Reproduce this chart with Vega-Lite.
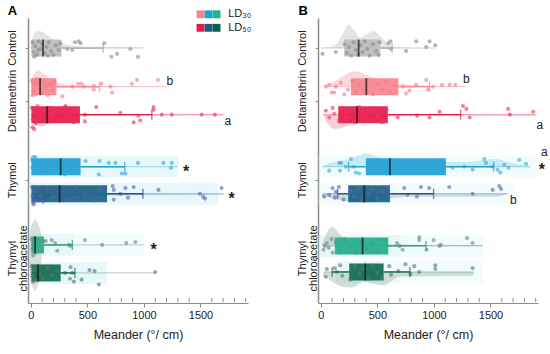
{
"$schema": "https://vega.github.io/schema/vega-lite/v6.json",
"padding": {"left": 7, "top": 5, "right": 4, "bottom": 3},
"data": {"values": [
{"kind":"box","panel":"A","grp":"C","row":26,"q1":5,"med":108,"q3":272},
{"kind":"box","panel":"A","grp":"D30","row":66,"q1":5,"med":82,"q3":226},
{"kind":"box","panel":"A","grp":"D50","row":95,"q1":5,"med":144,"q3":434},
{"kind":"box","panel":"A","grp":"T30","row":149,"q1":5,"med":264,"q3":440},
{"kind":"box","panel":"A","grp":"T50","row":177,"q1":5,"med":255,"q3":674},
{"kind":"box","panel":"A","grp":"TC30","row":230,"q1":5,"med":38,"q3":117},
{"kind":"box","panel":"A","grp":"TC50","row":259,"q1":5,"med":64,"q3":264},
{"kind":"box","panel":"B","grp":"C","row":26,"q1":207,"med":334,"q3":526},
{"kind":"box","panel":"B","grp":"D30","row":66,"q1":266,"med":402,"q3":686},
{"kind":"box","panel":"B","grp":"D50","row":95,"q1":154,"med":320,"q3":592},
{"kind":"box","panel":"B","grp":"T30","row":149,"q1":398,"med":611,"q3":1106},
{"kind":"box","panel":"B","grp":"T50","row":177,"q1":242,"med":384,"q3":611},
{"kind":"box","panel":"B","grp":"TC30","row":231,"q1":124,"med":369,"q3":596},
{"kind":"box","panel":"B","grp":"TC50","row":258,"q1":251,"med":392,"q3":555},

{"kind":"whisk","panel":"A","grp":"C","row":26,"a":272,"b":640},
{"kind":"whisk","panel":"A","grp":"D30","row":66,"a":226,"b":607},
{"kind":"whisk","panel":"A","grp":"D50","row":95,"a":434,"b":1070},
{"kind":"whisk","panel":"A","grp":"T30","row":149,"a":440,"b":830},
{"kind":"whisk","panel":"A","grp":"T50","row":177,"a":674,"b":991},
{"kind":"whisk","panel":"A","grp":"TC30","row":230,"a":117,"b":367},
{"kind":"whisk","panel":"A","grp":"TC50","row":259,"a":264,"b":390},
{"kind":"whisk","panel":"B","grp":"C","row":26,"a":526,"b":630},
{"kind":"whisk","panel":"B","grp":"D30","row":66,"a":686,"b":961},
{"kind":"whisk","panel":"B","grp":"D50","row":95,"a":592,"b":1236},
{"kind":"whisk","panel":"B","grp":"T30","row":149,"a":1106,"b":1528},
{"kind":"whisk","panel":"B","grp":"T30","row":149,"a":245,"b":398},
{"kind":"whisk","panel":"B","grp":"T50","row":177,"a":611,"b":997},
{"kind":"whisk","panel":"B","grp":"T50","row":177,"a":148,"b":242},
{"kind":"whisk","panel":"B","grp":"TC30","row":231,"a":596,"b":929},
{"kind":"whisk","panel":"B","grp":"TC50","row":258,"a":555,"b":788},
{"kind":"whisk","panel":"B","grp":"TC50","row":258,"a":100,"b":251},

{"kind":"cap","panel":"A","grp":"C","row":26,"v":640},
{"kind":"cap","panel":"A","grp":"D30","row":66,"v":607},
{"kind":"cap","panel":"A","grp":"D50","row":95,"v":1070},
{"kind":"cap","panel":"A","grp":"T30","row":149,"v":830},
{"kind":"cap","panel":"A","grp":"T50","row":177,"v":991},
{"kind":"cap","panel":"A","grp":"TC30","row":230,"v":367},
{"kind":"cap","panel":"A","grp":"TC50","row":259,"v":390},
{"kind":"cap","panel":"B","grp":"C","row":26,"v":630},
{"kind":"cap","panel":"B","grp":"D30","row":66,"v":961},
{"kind":"cap","panel":"B","grp":"D50","row":95,"v":1236},
{"kind":"cap","panel":"B","grp":"T30","row":149,"v":1528},
{"kind":"cap","panel":"B","grp":"T30","row":149,"v":245},
{"kind":"cap","panel":"B","grp":"T50","row":177,"v":997},
{"kind":"cap","panel":"B","grp":"T50","row":177,"v":148},
{"kind":"cap","panel":"B","grp":"TC30","row":231,"v":929},
{"kind":"cap","panel":"B","grp":"TC50","row":258,"v":788},
{"kind":"cap","panel":"B","grp":"TC50","row":258,"v":100},

{"kind":"tail","panel":"A","grp":"C","row":26,"a":0,"b":995},
{"kind":"tail","panel":"A","grp":"D30","row":66,"a":0,"b":1200},
{"kind":"tail","panel":"A","grp":"D50","row":95,"a":0,"b":1706},
{"kind":"tail","panel":"A","grp":"T30","row":149,"a":0,"b":1300},
{"kind":"tail","panel":"A","grp":"T50","row":177,"a":0,"b":1706},
{"kind":"tail","panel":"A","grp":"TC30","row":230,"a":0,"b":995},
{"kind":"tail","panel":"A","grp":"TC50","row":259,"a":0,"b":1100},
{"kind":"tail","panel":"B","grp":"C","row":26,"a":0,"b":1012},
{"kind":"tail","panel":"B","grp":"D30","row":66,"a":30,"b":1270},
{"kind":"tail","panel":"B","grp":"D50","row":95,"a":20,"b":1900},
{"kind":"tail","panel":"B","grp":"T30","row":149,"a":20,"b":1850},
{"kind":"tail","panel":"B","grp":"T50","row":177,"a":20,"b":1650},
{"kind":"tail","panel":"B","grp":"TC30","row":231,"a":20,"b":1434},
{"kind":"tail","panel":"B","grp":"TC50","row":258,"a":30,"b":1355},

{"kind":"band","panel":"A","grp":"T30","row":149,"a":-18,"b":1300},
{"kind":"band","panel":"A","grp":"T50","row":177,"a":-18,"b":1655},
{"kind":"band","panel":"A","grp":"TC30","row":230,"a":-18,"b":380},
{"kind":"bandf","panel":"A","grp":"TC30","row":230,"a":380,"b":995},
{"kind":"band","panel":"A","grp":"TC50","row":259,"a":-18,"b":674},
{"kind":"bandf","panel":"B","grp":"T30","row":149,"a":-20,"b":1900},
{"kind":"bandf","panel":"B","grp":"T50","row":177,"a":-20,"b":1710},
{"kind":"band","panel":"B","grp":"TC30","row":231,"a":-20,"b":708},
{"kind":"bandf","panel":"B","grp":"TC30","row":231,"a":708,"b":1434},
{"kind":"band","panel":"B","grp":"TC50","row":258,"a":133,"b":560},
{"kind":"bandf","panel":"B","grp":"TC50","row":258,"a":560,"b":1434},

{"kind":"dens","panel":"A","grp":"C","v":0,"top":24,"base":26},
{"kind":"dens","panel":"A","grp":"C","v":20,"top":14,"base":26},
{"kind":"dens","panel":"A","grp":"C","v":55,"top":8,"base":26},
{"kind":"dens","panel":"A","grp":"C","v":100,"top":9,"base":26},
{"kind":"dens","panel":"A","grp":"C","v":170,"top":15,"base":26},
{"kind":"dens","panel":"A","grp":"C","v":250,"top":20,"base":26},
{"kind":"dens","panel":"A","grp":"C","v":350,"top":23,"base":26},
{"kind":"dens","panel":"A","grp":"C","v":500,"top":24.5,"base":26},
{"kind":"dens","panel":"A","grp":"C","v":750,"top":25,"base":26},
{"kind":"dens","panel":"A","grp":"C","v":995,"top":25.5,"base":26},
{"kind":"dens","panel":"A","grp":"D30","v":0,"top":62,"base":66},
{"kind":"dens","panel":"A","grp":"D30","v":30,"top":52,"base":66},
{"kind":"dens","panel":"A","grp":"D30","v":70,"top":49,"base":66},
{"kind":"dens","panel":"A","grp":"D30","v":120,"top":53,"base":66},
{"kind":"dens","panel":"A","grp":"D30","v":200,"top":60,"base":66},
{"kind":"dens","panel":"A","grp":"D30","v":300,"top":63.5,"base":66},
{"kind":"dens","panel":"A","grp":"D30","v":500,"top":65,"base":66},
{"kind":"dens","panel":"A","grp":"D30","v":1200,"top":65.5,"base":66},
{"kind":"dens","panel":"A","grp":"D50","v":0,"top":100,"base":95},
{"kind":"dens","panel":"A","grp":"D50","v":40,"top":106,"base":95},
{"kind":"dens","panel":"A","grp":"D50","v":100,"top":107,"base":95},
{"kind":"dens","panel":"A","grp":"D50","v":180,"top":104,"base":95},
{"kind":"dens","panel":"A","grp":"D50","v":300,"top":99,"base":95},
{"kind":"dens","panel":"A","grp":"D50","v":500,"top":96.5,"base":95},
{"kind":"dens","panel":"A","grp":"D50","v":1700,"top":95.5,"base":95},
{"kind":"dens","panel":"A","grp":"T50","v":0,"top":183,"base":177},
{"kind":"dens","panel":"A","grp":"T50","v":30,"top":186,"base":177},
{"kind":"dens","panel":"A","grp":"T50","v":100,"top":184,"base":177},
{"kind":"dens","panel":"A","grp":"T50","v":200,"top":180,"base":177},
{"kind":"dens","panel":"A","grp":"T50","v":1700,"top":178,"base":177},
{"kind":"dens","panel":"B","grp":"C","v":0,"top":26,"base":26},
{"kind":"dens","panel":"B","grp":"C","v":80,"top":25,"base":26},
{"kind":"dens","panel":"B","grp":"C","v":150,"top":20,"base":26},
{"kind":"dens","panel":"B","grp":"C","v":200,"top":10,"base":26},
{"kind":"dens","panel":"B","grp":"C","v":245,"top":2,"base":26},
{"kind":"dens","panel":"B","grp":"C","v":290,"top":7,"base":26},
{"kind":"dens","panel":"B","grp":"C","v":350,"top":15,"base":26},
{"kind":"dens","panel":"B","grp":"C","v":400,"top":12,"base":26},
{"kind":"dens","panel":"B","grp":"C","v":465,"top":8,"base":26},
{"kind":"dens","panel":"B","grp":"C","v":520,"top":13,"base":26},
{"kind":"dens","panel":"B","grp":"C","v":570,"top":19,"base":26},
{"kind":"dens","panel":"B","grp":"C","v":630,"top":24,"base":26},
{"kind":"dens","panel":"B","grp":"C","v":800,"top":25.3,"base":26},
{"kind":"dens","panel":"B","grp":"C","v":1012,"top":25.6,"base":26},
{"kind":"dens","panel":"B","grp":"D30","v":30,"top":66,"base":66},
{"kind":"dens","panel":"B","grp":"D30","v":100,"top":62,"base":66},
{"kind":"dens","panel":"B","grp":"D30","v":200,"top":55,"base":66},
{"kind":"dens","panel":"B","grp":"D30","v":290,"top":50,"base":66},
{"kind":"dens","panel":"B","grp":"D30","v":350,"top":51,"base":66},
{"kind":"dens","panel":"B","grp":"D30","v":450,"top":56,"base":66},
{"kind":"dens","panel":"B","grp":"D30","v":550,"top":60,"base":66},
{"kind":"dens","panel":"B","grp":"D30","v":680,"top":63,"base":66},
{"kind":"dens","panel":"B","grp":"D30","v":900,"top":64.5,"base":66},
{"kind":"dens","panel":"B","grp":"D30","v":1270,"top":65.5,"base":66},
{"kind":"dens","panel":"B","grp":"D50","v":20,"top":95,"base":95},
{"kind":"dens","panel":"B","grp":"D50","v":60,"top":104,"base":95},
{"kind":"dens","panel":"B","grp":"D50","v":120,"top":110,"base":95},
{"kind":"dens","panel":"B","grp":"D50","v":200,"top":108,"base":95},
{"kind":"dens","panel":"B","grp":"D50","v":300,"top":104,"base":95},
{"kind":"dens","panel":"B","grp":"D50","v":450,"top":100,"base":95},
{"kind":"dens","panel":"B","grp":"D50","v":620,"top":97,"base":95},
{"kind":"dens","panel":"B","grp":"D50","v":900,"top":96,"base":95},
{"kind":"dens","panel":"B","grp":"D50","v":1900,"top":96,"base":95},
{"kind":"dens","panel":"B","grp":"T30","v":0,"top":149,"base":149},
{"kind":"dens","panel":"B","grp":"T30","v":80,"top":145,"base":149},
{"kind":"dens","panel":"B","grp":"T30","v":170,"top":143,"base":149},
{"kind":"dens","panel":"B","grp":"T30","v":300,"top":139,"base":149},
{"kind":"dens","panel":"B","grp":"T30","v":400,"top":135,"base":149},
{"kind":"dens","panel":"B","grp":"T30","v":500,"top":139,"base":149},
{"kind":"dens","panel":"B","grp":"T30","v":700,"top":143,"base":149},
{"kind":"dens","panel":"B","grp":"T30","v":1000,"top":144,"base":149},
{"kind":"dens","panel":"B","grp":"T30","v":1300,"top":144,"base":149},
{"kind":"dens","panel":"B","grp":"T30","v":1450,"top":142,"base":149},
{"kind":"dens","panel":"B","grp":"T30","v":1550,"top":141,"base":149},
{"kind":"dens","panel":"B","grp":"T30","v":1650,"top":144,"base":149},
{"kind":"dens","panel":"B","grp":"T30","v":1850,"top":149,"base":149},
{"kind":"dens","panel":"B","grp":"T50","v":10,"top":179,"base":177},
{"kind":"dens","panel":"B","grp":"T50","v":100,"top":182,"base":177},
{"kind":"dens","panel":"B","grp":"T50","v":250,"top":185,"base":177},
{"kind":"dens","panel":"B","grp":"T50","v":400,"top":186,"base":177},
{"kind":"dens","panel":"B","grp":"T50","v":550,"top":183,"base":177},
{"kind":"dens","panel":"B","grp":"T50","v":800,"top":180,"base":177},
{"kind":"dens","panel":"B","grp":"T50","v":1550,"top":180,"base":177},
{"kind":"dens","panel":"B","grp":"T50","v":1650,"top":177,"base":177},
{"kind":"dens","panel":"B","grp":"TC30","v":10,"top":229,"base":231},
{"kind":"dens","panel":"B","grp":"TC30","v":60,"top":216,"base":231},
{"kind":"dens","panel":"B","grp":"TC30","v":104,"top":211,"base":231},
{"kind":"dens","panel":"B","grp":"TC30","v":160,"top":218,"base":231},
{"kind":"dens","panel":"B","grp":"TC30","v":250,"top":226,"base":231},
{"kind":"dens","panel":"B","grp":"TC30","v":400,"top":229,"base":231},
{"kind":"dens","panel":"B","grp":"TC30","v":1430,"top":230,"base":231},
{"kind":"dens","panel":"B","grp":"TC50","v":20,"top":262,"base":258},
{"kind":"dens","panel":"B","grp":"TC50","v":100,"top":268,"base":258},
{"kind":"dens","panel":"B","grp":"TC50","v":180,"top":273,"base":258},
{"kind":"dens","panel":"B","grp":"TC50","v":280,"top":274,"base":258},
{"kind":"dens","panel":"B","grp":"TC50","v":380,"top":268,"base":258},
{"kind":"dens","panel":"B","grp":"TC50","v":450,"top":270,"base":258},
{"kind":"dens","panel":"B","grp":"TC50","v":560,"top":272,"base":258},
{"kind":"dens","panel":"B","grp":"TC50","v":620,"top":268,"base":258},
{"kind":"dens","panel":"B","grp":"TC50","v":700,"top":263,"base":258},
{"kind":"dens","panel":"B","grp":"TC50","v":1350,"top":262,"base":258},

{"kind":"violin","panel":"A","yy":203,"xl":38,"xr":38},
{"kind":"violin","panel":"A","yy":208,"xl":12,"xr":64},
{"kind":"violin","panel":"A","yy":215,"xl":-5,"xr":85},
{"kind":"violin","panel":"A","yy":225,"xl":-15,"xr":95},
{"kind":"violin","panel":"A","yy":238,"xl":-17,"xr":97},
{"kind":"violin","panel":"A","yy":250,"xl":-12,"xr":90},
{"kind":"violin","panel":"A","yy":262,"xl":-5,"xr":80},
{"kind":"violin","panel":"A","yy":272,"xl":10,"xr":62},
{"kind":"violin","panel":"A","yy":278,"xl":38,"xr":38},

{"kind":"pt","panel":"A","grp":"C","v":15,"y":20},{"kind":"pt","panel":"A","grp":"C","v":25,"y":30},{"kind":"pt","panel":"A","grp":"C","v":40,"y":24},{"kind":"pt","panel":"A","grp":"C","v":55,"y":33},{"kind":"pt","panel":"A","grp":"C","v":70,"y":19},{"kind":"pt","panel":"A","grp":"C","v":85,"y":27},{"kind":"pt","panel":"A","grp":"C","v":100,"y":22},{"kind":"pt","panel":"A","grp":"C","v":120,"y":31},{"kind":"pt","panel":"A","grp":"C","v":140,"y":25},{"kind":"pt","panel":"A","grp":"C","v":160,"y":20},{"kind":"pt","panel":"A","grp":"C","v":180,"y":29},{"kind":"pt","panel":"A","grp":"C","v":200,"y":33},{"kind":"pt","panel":"A","grp":"C","v":220,"y":23},{"kind":"pt","panel":"A","grp":"C","v":245,"y":28},{"kind":"pt","panel":"A","grp":"C","v":260,"y":21},{"kind":"pt","panel":"A","grp":"C","v":30,"y":35},{"kind":"pt","panel":"A","grp":"C","v":65,"y":28},{"kind":"pt","panel":"A","grp":"C","v":150,"y":34},
{"kind":"pt","panel":"A","grp":"C","v":322,"y":27},{"kind":"pt","panel":"A","grp":"C","v":367,"y":28},{"kind":"pt","panel":"A","grp":"C","v":390,"y":20},{"kind":"pt","panel":"A","grp":"C","v":424,"y":19},{"kind":"pt","panel":"A","grp":"C","v":440,"y":21},{"kind":"pt","panel":"A","grp":"C","v":650,"y":21},{"kind":"pt","panel":"A","grp":"C","v":712,"y":35},{"kind":"pt","panel":"A","grp":"C","v":762,"y":32},{"kind":"pt","panel":"A","grp":"C","v":880,"y":27},{"kind":"pt","panel":"A","grp":"C","v":947,"y":35},
{"kind":"pt","panel":"A","grp":"D30","v":10,"y":60},{"kind":"pt","panel":"A","grp":"D30","v":20,"y":70},{"kind":"pt","panel":"A","grp":"D30","v":35,"y":64},{"kind":"pt","panel":"A","grp":"D30","v":45,"y":74},{"kind":"pt","panel":"A","grp":"D30","v":60,"y":62},{"kind":"pt","panel":"A","grp":"D30","v":75,"y":68},{"kind":"pt","panel":"A","grp":"D30","v":95,"y":72},{"kind":"pt","panel":"A","grp":"D30","v":110,"y":60},{"kind":"pt","panel":"A","grp":"D30","v":130,"y":66},{"kind":"pt","panel":"A","grp":"D30","v":150,"y":75},{"kind":"pt","panel":"A","grp":"D30","v":170,"y":63},{"kind":"pt","panel":"A","grp":"D30","v":190,"y":70},{"kind":"pt","panel":"A","grp":"D30","v":210,"y":61},{"kind":"pt","panel":"A","grp":"D30","v":15,"y":75},{"kind":"pt","panel":"A","grp":"D30","v":55,"y":58},
{"kind":"pt","panel":"A","grp":"D30","v":279,"y":76},{"kind":"pt","panel":"A","grp":"D30","v":367,"y":66},{"kind":"pt","panel":"A","grp":"D30","v":419,"y":63},{"kind":"pt","panel":"A","grp":"D30","v":449,"y":63},{"kind":"pt","panel":"A","grp":"D30","v":469,"y":66},{"kind":"pt","panel":"A","grp":"D30","v":557,"y":65},{"kind":"pt","panel":"A","grp":"D30","v":557,"y":69},{"kind":"pt","panel":"A","grp":"D30","v":624,"y":63},{"kind":"pt","panel":"A","grp":"D30","v":704,"y":66},{"kind":"pt","panel":"A","grp":"D30","v":718,"y":72},{"kind":"pt","panel":"A","grp":"D30","v":894,"y":63},{"kind":"pt","panel":"A","grp":"D30","v":938,"y":59},{"kind":"pt","panel":"A","grp":"D30","v":1123,"y":59},
{"kind":"pt","panel":"A","grp":"D50","v":10,"y":88},{"kind":"pt","panel":"A","grp":"D50","v":20,"y":100},{"kind":"pt","panel":"A","grp":"D50","v":30,"y":92},{"kind":"pt","panel":"A","grp":"D50","v":45,"y":104},{"kind":"pt","panel":"A","grp":"D50","v":60,"y":86},{"kind":"pt","panel":"A","grp":"D50","v":80,"y":97},{"kind":"pt","panel":"A","grp":"D50","v":100,"y":90},{"kind":"pt","panel":"A","grp":"D50","v":130,"y":102},{"kind":"pt","panel":"A","grp":"D50","v":160,"y":88},{"kind":"pt","panel":"A","grp":"D50","v":190,"y":96},{"kind":"pt","panel":"A","grp":"D50","v":220,"y":91},{"kind":"pt","panel":"A","grp":"D50","v":260,"y":100},{"kind":"pt","panel":"A","grp":"D50","v":300,"y":87},{"kind":"pt","panel":"A","grp":"D50","v":340,"y":95},{"kind":"pt","panel":"A","grp":"D50","v":380,"y":103},{"kind":"pt","panel":"A","grp":"D50","v":410,"y":89},{"kind":"pt","panel":"A","grp":"D50","v":15,"y":108},{"kind":"pt","panel":"A","grp":"D50","v":30,"y":110},
{"kind":"pt","panel":"A","grp":"D50","v":308,"y":86},{"kind":"pt","panel":"A","grp":"D50","v":478,"y":95},{"kind":"pt","panel":"A","grp":"D50","v":478,"y":102},{"kind":"pt","panel":"A","grp":"D50","v":578,"y":87},{"kind":"pt","panel":"A","grp":"D50","v":792,"y":93},{"kind":"pt","panel":"A","grp":"D50","v":909,"y":103},{"kind":"pt","panel":"A","grp":"D50","v":967,"y":101},{"kind":"pt","panel":"A","grp":"D50","v":950,"y":96},{"kind":"pt","panel":"A","grp":"D50","v":1085,"y":87},{"kind":"pt","panel":"A","grp":"D50","v":1085,"y":90},{"kind":"pt","panel":"A","grp":"D50","v":1158,"y":95},{"kind":"pt","panel":"A","grp":"D50","v":1246,"y":95},{"kind":"pt","panel":"A","grp":"D50","v":1510,"y":95},{"kind":"pt","panel":"A","grp":"D50","v":1627,"y":95},
{"kind":"pt","panel":"A","grp":"T30","v":10,"y":142},{"kind":"pt","panel":"A","grp":"T30","v":15,"y":150},{"kind":"pt","panel":"A","grp":"T30","v":25,"y":146},{"kind":"pt","panel":"A","grp":"T30","v":35,"y":155},{"kind":"pt","panel":"A","grp":"T30","v":50,"y":143},{"kind":"pt","panel":"A","grp":"T30","v":70,"y":151},{"kind":"pt","panel":"A","grp":"T30","v":90,"y":147},{"kind":"pt","panel":"A","grp":"T30","v":120,"y":156},{"kind":"pt","panel":"A","grp":"T30","v":150,"y":142},{"kind":"pt","panel":"A","grp":"T30","v":180,"y":149},{"kind":"pt","panel":"A","grp":"T30","v":220,"y":153},{"kind":"pt","panel":"A","grp":"T30","v":260,"y":145},{"kind":"pt","panel":"A","grp":"T30","v":300,"y":157},{"kind":"pt","panel":"A","grp":"T30","v":340,"y":148},{"kind":"pt","panel":"A","grp":"T30","v":400,"y":143},{"kind":"pt","panel":"A","grp":"T30","v":20,"y":139},{"kind":"pt","panel":"A","grp":"T30","v":40,"y":139},
{"kind":"pt","panel":"A","grp":"T30","v":484,"y":143},{"kind":"pt","panel":"A","grp":"T30","v":601,"y":157},{"kind":"pt","panel":"A","grp":"T30","v":607,"y":143},{"kind":"pt","panel":"A","grp":"T30","v":689,"y":145},{"kind":"pt","panel":"A","grp":"T30","v":748,"y":145},{"kind":"pt","panel":"A","grp":"T30","v":806,"y":156},{"kind":"pt","panel":"A","grp":"T30","v":836,"y":156},{"kind":"pt","panel":"A","grp":"T30","v":947,"y":145},{"kind":"pt","panel":"A","grp":"T30","v":1172,"y":145},{"kind":"pt","panel":"A","grp":"T30","v":1246,"y":145},{"kind":"pt","panel":"A","grp":"T30","v":1240,"y":150},
{"kind":"pt","panel":"A","grp":"T50","v":10,"y":170},{"kind":"pt","panel":"A","grp":"T50","v":15,"y":180},{"kind":"pt","panel":"A","grp":"T50","v":20,"y":186},{"kind":"pt","panel":"A","grp":"T50","v":30,"y":175},{"kind":"pt","panel":"A","grp":"T50","v":45,"y":184},{"kind":"pt","panel":"A","grp":"T50","v":60,"y":171},{"kind":"pt","panel":"A","grp":"T50","v":80,"y":179},{"kind":"pt","panel":"A","grp":"T50","v":110,"y":185},{"kind":"pt","panel":"A","grp":"T50","v":150,"y":172},{"kind":"pt","panel":"A","grp":"T50","v":200,"y":180},{"kind":"pt","panel":"A","grp":"T50","v":260,"y":175},{"kind":"pt","panel":"A","grp":"T50","v":320,"y":183},{"kind":"pt","panel":"A","grp":"T50","v":400,"y":170},{"kind":"pt","panel":"A","grp":"T50","v":480,"y":178},{"kind":"pt","panel":"A","grp":"T50","v":560,"y":184},{"kind":"pt","panel":"A","grp":"T50","v":620,"y":172},{"kind":"pt","panel":"A","grp":"T50","v":25,"y":188},
{"kind":"pt","panel":"A","grp":"T50","v":724,"y":169},{"kind":"pt","panel":"A","grp":"T50","v":733,"y":173},{"kind":"pt","panel":"A","grp":"T50","v":733,"y":183},{"kind":"pt","panel":"A","grp":"T50","v":792,"y":177},{"kind":"pt","panel":"A","grp":"T50","v":836,"y":171},{"kind":"pt","panel":"A","grp":"T50","v":859,"y":181},{"kind":"pt","panel":"A","grp":"T50","v":909,"y":170},{"kind":"pt","panel":"A","grp":"T50","v":1128,"y":173},{"kind":"pt","panel":"A","grp":"T50","v":1495,"y":177},{"kind":"pt","panel":"A","grp":"T50","v":1524,"y":180},{"kind":"pt","panel":"A","grp":"T50","v":1540,"y":182},{"kind":"pt","panel":"A","grp":"T50","v":1686,"y":171},
{"kind":"pt","panel":"A","grp":"TC30","v":8,"y":224},{"kind":"pt","panel":"A","grp":"TC30","v":15,"y":234},{"kind":"pt","panel":"A","grp":"TC30","v":25,"y":228},{"kind":"pt","panel":"A","grp":"TC30","v":40,"y":238},{"kind":"pt","panel":"A","grp":"TC30","v":55,"y":225},{"kind":"pt","panel":"A","grp":"TC30","v":70,"y":231},{"kind":"pt","panel":"A","grp":"TC30","v":90,"y":236},{"kind":"pt","panel":"A","grp":"TC30","v":110,"y":226},{"kind":"pt","panel":"A","grp":"TC30","v":20,"y":241},
{"kind":"pt","panel":"A","grp":"TC30","v":132,"y":226},{"kind":"pt","panel":"A","grp":"TC30","v":185,"y":225},{"kind":"pt","panel":"A","grp":"TC30","v":214,"y":228},{"kind":"pt","panel":"A","grp":"TC30","v":234,"y":236},{"kind":"pt","panel":"A","grp":"TC30","v":337,"y":230},{"kind":"pt","panel":"A","grp":"TC30","v":352,"y":231},{"kind":"pt","panel":"A","grp":"TC30","v":478,"y":225},{"kind":"pt","panel":"A","grp":"TC30","v":630,"y":230},{"kind":"pt","panel":"A","grp":"TC30","v":844,"y":228},{"kind":"pt","panel":"A","grp":"TC30","v":924,"y":227},
{"kind":"pt","panel":"A","grp":"TC50","v":8,"y":252},{"kind":"pt","panel":"A","grp":"TC50","v":15,"y":262},{"kind":"pt","panel":"A","grp":"TC50","v":25,"y":256},{"kind":"pt","panel":"A","grp":"TC50","v":40,"y":266},{"kind":"pt","panel":"A","grp":"TC50","v":60,"y":253},{"kind":"pt","panel":"A","grp":"TC50","v":80,"y":260},{"kind":"pt","panel":"A","grp":"TC50","v":110,"y":264},{"kind":"pt","panel":"A","grp":"TC50","v":150,"y":254},{"kind":"pt","panel":"A","grp":"TC50","v":190,"y":261},{"kind":"pt","panel":"A","grp":"TC50","v":230,"y":257},{"kind":"pt","panel":"A","grp":"TC50","v":20,"y":268},
{"kind":"pt","panel":"A","grp":"TC50","v":302,"y":259},{"kind":"pt","panel":"A","grp":"TC50","v":352,"y":253},{"kind":"pt","panel":"A","grp":"TC50","v":367,"y":259},{"kind":"pt","panel":"A","grp":"TC50","v":346,"y":265},{"kind":"pt","panel":"A","grp":"TC50","v":381,"y":268},{"kind":"pt","panel":"A","grp":"TC50","v":449,"y":266},{"kind":"pt","panel":"A","grp":"TC50","v":519,"y":256},{"kind":"pt","panel":"A","grp":"TC50","v":563,"y":257},{"kind":"pt","panel":"A","grp":"TC50","v":601,"y":271},{"kind":"pt","panel":"A","grp":"TC50","v":1100,"y":258},

{"kind":"pt","panel":"B","grp":"C","v":15,"y":32},{"kind":"pt","panel":"B","grp":"C","v":133,"y":30},{"kind":"pt","panel":"B","grp":"C","v":210,"y":22},{"kind":"pt","panel":"B","grp":"C","v":230,"y":31},{"kind":"pt","panel":"B","grp":"C","v":250,"y":25},{"kind":"pt","panel":"B","grp":"C","v":270,"y":34},{"kind":"pt","panel":"B","grp":"C","v":290,"y":20},{"kind":"pt","panel":"B","grp":"C","v":310,"y":28},{"kind":"pt","panel":"B","grp":"C","v":330,"y":33},{"kind":"pt","panel":"B","grp":"C","v":350,"y":23},{"kind":"pt","panel":"B","grp":"C","v":370,"y":30},{"kind":"pt","panel":"B","grp":"C","v":390,"y":19},{"kind":"pt","panel":"B","grp":"C","v":410,"y":27},{"kind":"pt","panel":"B","grp":"C","v":430,"y":34},{"kind":"pt","panel":"B","grp":"C","v":460,"y":22},{"kind":"pt","panel":"B","grp":"C","v":490,"y":29},{"kind":"pt","panel":"B","grp":"C","v":510,"y":33},{"kind":"pt","panel":"B","grp":"C","v":520,"y":20},{"kind":"pt","panel":"B","grp":"C","v":597,"y":21},{"kind":"pt","panel":"B","grp":"C","v":615,"y":19},{"kind":"pt","panel":"B","grp":"C","v":620,"y":27},{"kind":"pt","panel":"B","grp":"C","v":754,"y":29},{"kind":"pt","panel":"B","grp":"C","v":843,"y":19},{"kind":"pt","panel":"B","grp":"C","v":932,"y":25},{"kind":"pt","panel":"B","grp":"C","v":961,"y":19},{"kind":"pt","panel":"B","grp":"C","v":1012,"y":23},
{"kind":"pt","panel":"B","grp":"D30","v":44,"y":66},{"kind":"pt","panel":"B","grp":"D30","v":74,"y":64},{"kind":"pt","panel":"B","grp":"D30","v":95,"y":72},{"kind":"pt","panel":"B","grp":"D30","v":118,"y":72},{"kind":"pt","panel":"B","grp":"D30","v":133,"y":66},{"kind":"pt","panel":"B","grp":"D30","v":177,"y":62},{"kind":"pt","panel":"B","grp":"D30","v":207,"y":74},{"kind":"pt","panel":"B","grp":"D30","v":240,"y":69},{"kind":"pt","panel":"B","grp":"D30","v":280,"y":60},{"kind":"pt","panel":"B","grp":"D30","v":310,"y":72},{"kind":"pt","panel":"B","grp":"D30","v":340,"y":64},{"kind":"pt","panel":"B","grp":"D30","v":380,"y":70},{"kind":"pt","panel":"B","grp":"D30","v":420,"y":59},{"kind":"pt","panel":"B","grp":"D30","v":460,"y":74},{"kind":"pt","panel":"B","grp":"D30","v":500,"y":63},{"kind":"pt","panel":"B","grp":"D30","v":540,"y":69},{"kind":"pt","panel":"B","grp":"D30","v":580,"y":61},{"kind":"pt","panel":"B","grp":"D30","v":620,"y":72},{"kind":"pt","panel":"B","grp":"D30","v":660,"y":65},{"kind":"pt","panel":"B","grp":"D30","v":725,"y":66},{"kind":"pt","panel":"B","grp":"D30","v":754,"y":73},{"kind":"pt","panel":"B","grp":"D30","v":783,"y":70},{"kind":"pt","panel":"B","grp":"D30","v":843,"y":64},{"kind":"pt","panel":"B","grp":"D30","v":932,"y":59},{"kind":"pt","panel":"B","grp":"D30","v":947,"y":69},{"kind":"pt","panel":"B","grp":"D30","v":991,"y":66},{"kind":"pt","panel":"B","grp":"D30","v":1071,"y":64},{"kind":"pt","panel":"B","grp":"D30","v":1139,"y":64},{"kind":"pt","panel":"B","grp":"D30","v":1189,"y":64},
{"kind":"pt","panel":"B","grp":"D50","v":44,"y":91},{"kind":"pt","panel":"B","grp":"D50","v":74,"y":98},{"kind":"pt","panel":"B","grp":"D50","v":104,"y":88},{"kind":"pt","panel":"B","grp":"D50","v":118,"y":94},{"kind":"pt","panel":"B","grp":"D50","v":160,"y":101},{"kind":"pt","panel":"B","grp":"D50","v":190,"y":88},{"kind":"pt","panel":"B","grp":"D50","v":220,"y":97},{"kind":"pt","panel":"B","grp":"D50","v":260,"y":91},{"kind":"pt","panel":"B","grp":"D50","v":300,"y":103},{"kind":"pt","panel":"B","grp":"D50","v":340,"y":87},{"kind":"pt","panel":"B","grp":"D50","v":380,"y":95},{"kind":"pt","panel":"B","grp":"D50","v":420,"y":100},{"kind":"pt","panel":"B","grp":"D50","v":460,"y":89},{"kind":"pt","panel":"B","grp":"D50","v":500,"y":96},{"kind":"pt","panel":"B","grp":"D50","v":540,"y":103},{"kind":"pt","panel":"B","grp":"D50","v":580,"y":90},{"kind":"pt","panel":"B","grp":"D50","v":680,"y":98},{"kind":"pt","panel":"B","grp":"D50","v":852,"y":96},{"kind":"pt","panel":"B","grp":"D50","v":961,"y":98},{"kind":"pt","panel":"B","grp":"D50","v":1050,"y":92},{"kind":"pt","panel":"B","grp":"D50","v":1257,"y":86},{"kind":"pt","panel":"B","grp":"D50","v":1287,"y":89},{"kind":"pt","panel":"B","grp":"D50","v":1316,"y":98},{"kind":"pt","panel":"B","grp":"D50","v":1656,"y":89},{"kind":"pt","panel":"B","grp":"D50","v":1671,"y":95},{"kind":"pt","panel":"B","grp":"D50","v":1878,"y":92},
{"kind":"pt","panel":"B","grp":"T30","v":74,"y":153},{"kind":"pt","panel":"B","grp":"T30","v":162,"y":145},{"kind":"pt","panel":"B","grp":"T30","v":180,"y":145},{"kind":"pt","panel":"B","grp":"T30","v":170,"y":153},{"kind":"pt","panel":"B","grp":"T30","v":221,"y":149},{"kind":"pt","panel":"B","grp":"T30","v":265,"y":141},{"kind":"pt","panel":"B","grp":"T30","v":290,"y":149},{"kind":"pt","panel":"B","grp":"T30","v":310,"y":155},{"kind":"pt","panel":"B","grp":"T30","v":340,"y":156},{"kind":"pt","panel":"B","grp":"T30","v":420,"y":143},{"kind":"pt","panel":"B","grp":"T30","v":470,"y":152},{"kind":"pt","panel":"B","grp":"T30","v":520,"y":146},{"kind":"pt","panel":"B","grp":"T30","v":580,"y":156},{"kind":"pt","panel":"B","grp":"T30","v":640,"y":142},{"kind":"pt","panel":"B","grp":"T30","v":700,"y":150},{"kind":"pt","panel":"B","grp":"T30","v":760,"y":145},{"kind":"pt","panel":"B","grp":"T30","v":820,"y":154},{"kind":"pt","panel":"B","grp":"T30","v":880,"y":143},{"kind":"pt","panel":"B","grp":"T30","v":940,"y":151},{"kind":"pt","panel":"B","grp":"T30","v":1000,"y":147},{"kind":"pt","panel":"B","grp":"T30","v":1060,"y":155},{"kind":"pt","panel":"B","grp":"T30","v":1165,"y":150},{"kind":"pt","panel":"B","grp":"T30","v":1268,"y":149},{"kind":"pt","panel":"B","grp":"T30","v":1342,"y":152},{"kind":"pt","panel":"B","grp":"T30","v":1445,"y":141},{"kind":"pt","panel":"B","grp":"T30","v":1460,"y":145},{"kind":"pt","panel":"B","grp":"T30","v":1520,"y":149},{"kind":"pt","panel":"B","grp":"T30","v":1563,"y":152},{"kind":"pt","panel":"B","grp":"T30","v":1587,"y":155},{"kind":"pt","panel":"B","grp":"T30","v":1622,"y":147},{"kind":"pt","panel":"B","grp":"T30","v":1658,"y":150},{"kind":"pt","panel":"B","grp":"T30","v":1755,"y":142},{"kind":"pt","panel":"B","grp":"T30","v":1814,"y":146},
{"kind":"pt","panel":"B","grp":"T50","v":29,"y":180},{"kind":"pt","panel":"B","grp":"T50","v":74,"y":178},{"kind":"pt","panel":"B","grp":"T50","v":104,"y":171},{"kind":"pt","panel":"B","grp":"T50","v":124,"y":181},{"kind":"pt","panel":"B","grp":"T50","v":133,"y":175},{"kind":"pt","panel":"B","grp":"T50","v":160,"y":170},{"kind":"pt","panel":"B","grp":"T50","v":200,"y":183},{"kind":"pt","panel":"B","grp":"T50","v":260,"y":174},{"kind":"pt","panel":"B","grp":"T50","v":290,"y":180},{"kind":"pt","panel":"B","grp":"T50","v":330,"y":171},{"kind":"pt","panel":"B","grp":"T50","v":370,"y":184},{"kind":"pt","panel":"B","grp":"T50","v":420,"y":177},{"kind":"pt","panel":"B","grp":"T50","v":460,"y":172},{"kind":"pt","panel":"B","grp":"T50","v":500,"y":182},{"kind":"pt","panel":"B","grp":"T50","v":550,"y":175},{"kind":"pt","panel":"B","grp":"T50","v":590,"y":170},{"kind":"pt","panel":"B","grp":"T50","v":737,"y":171},{"kind":"pt","panel":"B","grp":"T50","v":767,"y":178},{"kind":"pt","panel":"B","grp":"T50","v":850,"y":180},{"kind":"pt","panel":"B","grp":"T50","v":885,"y":170},{"kind":"pt","panel":"B","grp":"T50","v":958,"y":171},{"kind":"pt","panel":"B","grp":"T50","v":1136,"y":170},{"kind":"pt","panel":"B","grp":"T50","v":1342,"y":177},{"kind":"pt","panel":"B","grp":"T50","v":1519,"y":173},{"kind":"pt","panel":"B","grp":"T50","v":1578,"y":169},{"kind":"pt","panel":"B","grp":"T50","v":1593,"y":172},
{"kind":"pt","panel":"B","grp":"TC30","v":24,"y":235},{"kind":"pt","panel":"B","grp":"TC30","v":35,"y":231},{"kind":"pt","panel":"B","grp":"TC30","v":53,"y":228},{"kind":"pt","panel":"B","grp":"TC30","v":70,"y":233},{"kind":"pt","panel":"B","grp":"TC30","v":95,"y":224},{"kind":"pt","panel":"B","grp":"TC30","v":104,"y":238},{"kind":"pt","panel":"B","grp":"TC30","v":130,"y":227},{"kind":"pt","panel":"B","grp":"TC30","v":170,"y":236},{"kind":"pt","panel":"B","grp":"TC30","v":210,"y":224},{"kind":"pt","panel":"B","grp":"TC30","v":260,"y":232},{"kind":"pt","panel":"B","grp":"TC30","v":310,"y":238},{"kind":"pt","panel":"B","grp":"TC30","v":360,"y":226},{"kind":"pt","panel":"B","grp":"TC30","v":410,"y":234},{"kind":"pt","panel":"B","grp":"TC30","v":460,"y":229},{"kind":"pt","panel":"B","grp":"TC30","v":510,"y":237},{"kind":"pt","panel":"B","grp":"TC30","v":560,"y":225},{"kind":"pt","panel":"B","grp":"TC30","v":673,"y":228},{"kind":"pt","panel":"B","grp":"TC30","v":694,"y":231},{"kind":"pt","panel":"B","grp":"TC30","v":723,"y":235},{"kind":"pt","panel":"B","grp":"TC30","v":870,"y":222},{"kind":"pt","panel":"B","grp":"TC30","v":870,"y":225},{"kind":"pt","panel":"B","grp":"TC30","v":935,"y":235},{"kind":"pt","panel":"B","grp":"TC30","v":997,"y":225},{"kind":"pt","panel":"B","grp":"TC30","v":1047,"y":231},{"kind":"pt","panel":"B","grp":"TC30","v":1062,"y":230},{"kind":"pt","panel":"B","grp":"TC30","v":1292,"y":223},{"kind":"pt","panel":"B","grp":"TC30","v":1342,"y":228},
{"kind":"pt","panel":"B","grp":"TC50","v":44,"y":263},{"kind":"pt","panel":"B","grp":"TC50","v":53,"y":255},{"kind":"pt","panel":"B","grp":"TC50","v":124,"y":254},{"kind":"pt","panel":"B","grp":"TC50","v":140,"y":258},{"kind":"pt","panel":"B","grp":"TC50","v":171,"y":251},{"kind":"pt","panel":"B","grp":"TC50","v":190,"y":262},{"kind":"pt","panel":"B","grp":"TC50","v":260,"y":266},{"kind":"pt","panel":"B","grp":"TC50","v":300,"y":252},{"kind":"pt","panel":"B","grp":"TC50","v":340,"y":260},{"kind":"pt","panel":"B","grp":"TC50","v":380,"y":255},{"kind":"pt","panel":"B","grp":"TC50","v":420,"y":265},{"kind":"pt","panel":"B","grp":"TC50","v":460,"y":251},{"kind":"pt","panel":"B","grp":"TC50","v":500,"y":259},{"kind":"pt","panel":"B","grp":"TC50","v":540,"y":264},{"kind":"pt","panel":"B","grp":"TC50","v":605,"y":252},{"kind":"pt","panel":"B","grp":"TC50","v":620,"y":261},{"kind":"pt","panel":"B","grp":"TC50","v":686,"y":257},{"kind":"pt","panel":"B","grp":"TC50","v":748,"y":250},{"kind":"pt","panel":"B","grp":"TC50","v":792,"y":260},{"kind":"pt","panel":"B","grp":"TC50","v":826,"y":252},{"kind":"pt","panel":"B","grp":"TC50","v":870,"y":258},{"kind":"pt","panel":"B","grp":"TC50","v":1012,"y":251},{"kind":"pt","panel":"B","grp":"TC50","v":1012,"y":255},{"kind":"pt","panel":"B","grp":"TC50","v":1342,"y":254},

{"kind":"ann","panel":"A","v":1230,"y":60,"t":"b"},
{"kind":"ann","panel":"A","v":1742,"y":102,"t":"a"},
{"kind":"ann","panel":"B","v":1287,"y":58,"t":"b"},
{"kind":"ann","panel":"B","v":1937,"y":106,"t":"a"},
{"kind":"ann","panel":"B","v":1976,"y":134,"t":"a"},
{"kind":"ann","panel":"B","v":1702,"y":183,"t":"b"},
{"kind":"star","panel":"A","v":1372,"y":151,"t":"*"},
{"kind":"star","panel":"A","v":1774,"y":179,"t":"*"},
{"kind":"star","panel":"A","v":1085,"y":232,"t":"*"},
{"kind":"star","panel":"B","v":1955,"y":149,"t":"*"},

{"kind":"lgsq","panel":"A","v":1500,"y":-9,"c":"p30"},
{"kind":"lgsq","panel":"A","v":1571,"y":-9,"c":"b30"},
{"kind":"lgsq","panel":"A","v":1642,"y":-9,"c":"g30"},
{"kind":"lgsq","panel":"A","v":1500,"y":5,"c":"p50"},
{"kind":"lgsq","panel":"A","v":1571,"y":5,"c":"b50"},
{"kind":"lgsq","panel":"A","v":1642,"y":5,"c":"g50"},
{"kind":"lgtx","panel":"A","v":1745,"y":-9,"t":"LD₃₀"},
{"kind":"lgtx","panel":"A","v":1745,"y":5,"t":"LD₅₀"},
{"kind":"letter","panel":"A","v":-162,"y":-12,"t":"A"},
{"kind":"letter","panel":"B","v":-155,"y":-12,"t":"B"},

{"kind":"cat","panel":"A","v":-157,"y":26,"t":"Control"},
{"kind":"cat","panel":"A","v":-157,"y":81,"t":"Deltamethrin"},
{"kind":"cat","panel":"A","v":-157,"y":163,"t":"Thymol"},
{"kind":"cat","panel":"A","v":-157,"y":244,"t":["Thymyl","chloroacetate"]},
{"kind":"cat","panel":"B","v":-157,"y":26,"t":"Control"},
{"kind":"cat","panel":"B","v":-157,"y":81,"t":"Deltamethrin"},
{"kind":"cat","panel":"B","v":-157,"y":163,"t":"Thymol"},
{"kind":"cat","panel":"B","v":-157,"y":244,"t":["Thymyl","chloroacetate"]},

{"kind":"mt","panel":"A","v":100},{"kind":"mt","panel":"A","v":200},{"kind":"mt","panel":"A","v":300},{"kind":"mt","panel":"A","v":400},
{"kind":"mt","panel":"A","v":600},{"kind":"mt","panel":"A","v":700},{"kind":"mt","panel":"A","v":800},{"kind":"mt","panel":"A","v":900},
{"kind":"mt","panel":"A","v":1100},{"kind":"mt","panel":"A","v":1200},{"kind":"mt","panel":"A","v":1300},{"kind":"mt","panel":"A","v":1400},
{"kind":"mt","panel":"A","v":1600},{"kind":"mt","panel":"A","v":1700},{"kind":"mt","panel":"A","v":1800},{"kind":"mt","panel":"A","v":1900},
{"kind":"mt","panel":"B","v":100},{"kind":"mt","panel":"B","v":200},{"kind":"mt","panel":"B","v":300},{"kind":"mt","panel":"B","v":400},
{"kind":"mt","panel":"B","v":600},{"kind":"mt","panel":"B","v":700},{"kind":"mt","panel":"B","v":800},{"kind":"mt","panel":"B","v":900},
{"kind":"mt","panel":"B","v":1100},{"kind":"mt","panel":"B","v":1200},{"kind":"mt","panel":"B","v":1300},{"kind":"mt","panel":"B","v":1400},
{"kind":"mt","panel":"B","v":1600},{"kind":"mt","panel":"B","v":1700},{"kind":"mt","panel":"B","v":1800},{"kind":"mt","panel":"B","v":1900}
]},
"facet": {"column": {"field": "panel", "type": "nominal", "title": null, "header": {"labels": false}}},
"spacing": {"column": 39},
"resolve": {"axis": {"y": "independent", "x": "independent"}},
"spec": {
 "width": 220,
 "height": 285,
 "resolve": {"scale": {"color": "independent"}},
 "layer": [
  {"transform": [{"filter": "datum.kind == 'band'"}],
   "mark": {"type": "bar", "orient": "horizontal", "size": 22, "color": "#c8f0f5", "opacity": 0.45},
   "encoding": {
    "x": {"field": "a", "type": "quantitative", "title": "Meander (°/ cm)",
          "scale": {"domain": [-25, 1920], "nice": false, "zero": false},
          "axis": {"values": [0, 500, 1000, 1500], "format": "d", "tickSize": 4, "labelPadding": 2, "titlePadding": 8, "labelFlush": false}},
    "x2": {"field": "b"},
    "y": {"field": "row", "type": "quantitative", "title": null,
          "scale": {"domain": [0, 285], "reverse": true, "nice": false, "zero": false},
          "axis": {"values": [26, 81, 163, 244], "labels": false, "tickSize": 3, "domainWidth": 1.5}}
   }},
  {"transform": [{"filter": "datum.kind == 'bandf'"}],
   "mark": {"type": "bar", "orient": "horizontal", "size": 22, "color": "#dcf6f8", "opacity": 0.35},
   "encoding": {
    "x": {"field": "a", "type": "quantitative", "title": "Meander (°/ cm)"},
    "x2": {"field": "b"},
    "y": {"field": "row", "type": "quantitative", "title": null}
   }},
  {"transform": [{"filter": "datum.kind == 'dens'"}],
   "mark": {"type": "area", "opacity": 0.5, "interpolate": "monotone"},
   "encoding": {
    "x": {"field": "v", "type": "quantitative", "title": "Meander (°/ cm)"},
    "y": {"field": "top", "type": "quantitative", "title": null},
    "y2": {"field": "base"},
    "color": {"field": "grp", "type": "nominal", "legend": null,
              "scale": {"domain": ["C","D30","D50","T30","T50","TC30","TC50"],
                        "range": ["#c9c9c9","#f8b2ba","#f49db0","#9cdaef","#a9b6d6","#a8bdb5","#a8bdb5"]}}
   }},
  {"transform": [{"filter": "datum.kind == 'violin'"}],
   "mark": {"type": "area", "orient": "horizontal", "color": "#b9c4c0", "opacity": 0.55, "interpolate": "monotone"},
   "encoding": {
    "y": {"field": "yy", "type": "quantitative", "title": null},
    "x": {"field": "xl", "type": "quantitative", "title": "Meander (°/ cm)"},
    "x2": {"field": "xr"}
   }},
  {"transform": [{"filter": "datum.kind == 'tail'"}],
   "mark": {"type": "rule", "strokeWidth": 1, "opacity": 0.45},
   "encoding": {
    "x": {"field": "a", "type": "quantitative", "title": "Meander (°/ cm)"},
    "x2": {"field": "b"},
    "y": {"field": "row", "type": "quantitative", "title": null},
    "color": {"field": "grp", "type": "nominal", "legend": null,
              "scale": {"domain": ["C","D30","D50","T30","T50","TC30","TC50"],
                        "range": ["#9a9a9a","#f7868e","#e8184a","#1f9fd3","#5b5f96","#6b7f78","#6b7f78"]}}
   }},
  {"transform": [{"filter": "datum.kind == 'box'"}],
   "mark": {"type": "bar", "orient": "horizontal", "size": 17, "opacity": 0.92},
   "encoding": {
    "x": {"field": "q1", "type": "quantitative", "title": "Meander (°/ cm)"},
    "x2": {"field": "q3"},
    "y": {"field": "row", "type": "quantitative", "title": null},
    "color": {"field": "grp", "type": "nominal", "legend": null,
              "scale": {"domain": ["C","D30","D50","T30","T50","TC30","TC50"],
                        "range": ["#bdbdbd","#f7868e","#e8184a","#1f9fd3","#1b5f86","#1fb08a","#0f6b50"]}}
   }},
  {"transform": [{"filter": "datum.kind == 'pt'"}],
   "mark": {"type": "circle", "size": 17, "opacity": 0.62},
   "encoding": {
    "x": {"field": "v", "type": "quantitative", "title": "Meander (°/ cm)"},
    "y": {"field": "y", "type": "quantitative", "title": null},
    "color": {"field": "grp", "type": "nominal", "legend": null,
              "scale": {"domain": ["C","D30","D50","T30","T50","TC30","TC50"],
                        "range": ["#8a8a8a","#f07e8c","#e2375f","#35a8d6","#5a66ab","#6c8a80","#5a786d"]}}
   }},
  {"transform": [{"filter": "datum.kind == 'whisk'"}],
   "mark": {"type": "rule", "strokeWidth": 1.4},
   "encoding": {
    "x": {"field": "a", "type": "quantitative", "title": "Meander (°/ cm)"},
    "x2": {"field": "b"},
    "y": {"field": "row", "type": "quantitative", "title": null},
    "color": {"field": "grp", "type": "nominal", "legend": null,
              "scale": {"domain": ["C","D30","D50","T30","T50","TC30","TC50"],
                        "range": ["#a8a8a8","#f7868e","#e8184a","#1f9fd3","#2b4f8a","#1e9a7a","#0f6b50"]}}
   }},
  {"transform": [{"filter": "datum.kind == 'cap'"}],
   "mark": {"type": "tick", "orient": "vertical", "size": 10, "thickness": 1.4},
   "encoding": {
    "x": {"field": "v", "type": "quantitative", "title": "Meander (°/ cm)"},
    "y": {"field": "row", "type": "quantitative", "title": null},
    "color": {"field": "grp", "type": "nominal", "legend": null,
              "scale": {"domain": ["C","D30","D50","T30","T50","TC30","TC50"],
                        "range": ["#a8a8a8","#f7868e","#e8184a","#1f9fd3","#2b4f8a","#1e9a7a","#0f6b50"]}}
   }},
  {"transform": [{"filter": "datum.kind == 'box'"}],
   "mark": {"type": "tick", "orient": "vertical", "size": 17, "thickness": 1.8, "color": "#111111"},
   "encoding": {
    "x": {"field": "med", "type": "quantitative", "title": "Meander (°/ cm)"},
    "y": {"field": "row", "type": "quantitative", "title": null}
   }},
  {"transform": [{"filter": "datum.kind == 'mt'"}],
   "mark": {"type": "rule", "color": "#8c8c8c", "strokeWidth": 1, "y2Offset": 4},
   "encoding": {
    "x": {"field": "v", "type": "quantitative", "title": "Meander (°/ cm)"},
    "y": {"datum": 285, "type": "quantitative"},
    "y2": {"datum": 285}
   }},
  {"transform": [{"filter": "datum.kind == 'cat'"}],
   "mark": {"type": "text", "fontSize": 11, "color": "#222222", "angle": 270, "align": "center", "baseline": "middle", "lineHeight": 11},
   "encoding": {
    "x": {"field": "v", "type": "quantitative", "title": "Meander (°/ cm)"},
    "y": {"field": "y", "type": "quantitative", "title": null},
    "text": {"field": "t"}
   }},
  {"transform": [{"filter": "datum.kind == 'ann'"}],
   "mark": {"type": "text", "fontSize": 12, "color": "#222222", "align": "center", "baseline": "middle"},
   "encoding": {
    "x": {"field": "v", "type": "quantitative", "title": "Meander (°/ cm)"},
    "y": {"field": "y", "type": "quantitative", "title": null},
    "text": {"field": "t"}
   }},
  {"transform": [{"filter": "datum.kind == 'star'"}],
   "mark": {"type": "text", "fontSize": 16, "fontWeight": "bold", "color": "#222222", "align": "center", "baseline": "middle", "dy": 3},
   "encoding": {
    "x": {"field": "v", "type": "quantitative", "title": "Meander (°/ cm)"},
    "y": {"field": "y", "type": "quantitative", "title": null},
    "text": {"field": "t"}
   }},
  {"transform": [{"filter": "datum.kind == 'lgsq'"}],
   "mark": {"type": "square", "size": 62, "opacity": 1, "filled": true},
   "encoding": {
    "x": {"field": "v", "type": "quantitative", "title": "Meander (°/ cm)"},
    "y": {"field": "y", "type": "quantitative", "title": null},
    "color": {"field": "c", "type": "nominal", "legend": null,
              "scale": {"domain": ["p30","b30","g30","p50","b50","g50"],
                        "range": ["#f7868e","#1f9fd3","#1fb58c","#e8184a","#1b5a80","#0b5f4c"]}}
   }},
  {"transform": [{"filter": "datum.kind == 'lgtx'"}],
   "mark": {"type": "text", "fontSize": 11, "color": "#222222", "align": "left", "baseline": "middle"},
   "encoding": {
    "x": {"field": "v", "type": "quantitative", "title": "Meander (°/ cm)"},
    "y": {"field": "y", "type": "quantitative", "title": null},
    "text": {"field": "t"}
   }},
  {"transform": [{"filter": "datum.kind == 'letter'"}],
   "mark": {"type": "text", "fontSize": 13, "fontWeight": "bold", "color": "#000000", "align": "center", "baseline": "middle"},
   "encoding": {
    "x": {"field": "v", "type": "quantitative", "title": "Meander (°/ cm)"},
    "y": {"field": "y", "type": "quantitative", "title": null},
    "text": {"field": "t"}
   }}
 ]
},
"config": {
 "font": "Liberation Sans",
 "view": {"stroke": null},
 "axis": {"grid": false, "domainColor": "#8c8c8c", "tickColor": "#8c8c8c", "labelColor": "#222222", "titleColor": "#222222",
          "labelFontSize": 11, "titleFontSize": 12.5, "titleFontWeight": "normal", "labelFont": "Liberation Sans", "titleFont": "Liberation Sans"}
}
}
